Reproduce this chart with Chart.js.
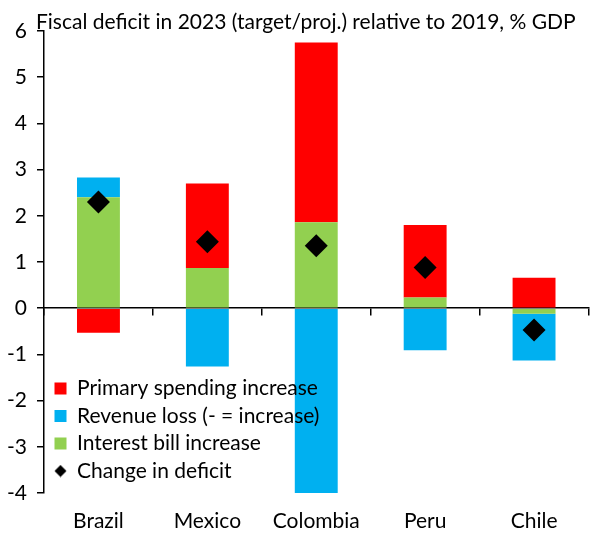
<!DOCTYPE html>
<html><head><meta charset="utf-8">
<script src="https://cdn.jsdelivr.net/npm/chart.js@4.4.0/dist/chart.umd.min.js"></script>
<style>
html,body{margin:0;padding:0;background:#fff;}
</style></head><body>
<canvas id="c" width="600" height="539"></canvas>
<script>
const categories = ['Brazil', 'Mexico', 'Colombia', 'Peru', 'Chile'];
const primarySpending = [-0.53, 1.83, 3.89, 1.57, 0.66];
const revenueLoss = [0.43, -1.26, -4.40, -0.91, -1.01];
const interestBill = [2.40, 0.87, 1.86, 0.23, -0.12];
const changeInDeficit = [2.30, 1.44, 1.35, 0.88, -0.47];
const seriesLabels = ['Primary spending increase', 'Revenue loss (- = increase)', 'Interest bill increase', 'Change in deficit'];
const chartTitle = 'Fiscal deficit in 2023 (target/proj.) relative to 2019, % GDP';
const yMin = -4, yMax = 6, yStep = 1;

Chart.defaults.font.family = 'Lato, sans-serif';
Chart.defaults.font.size = 21;
Chart.defaults.color = '#000';

const diamondIcon = document.createElement('canvas');
diamondIcon.width = 13; diamondIcon.height = 13;
(function(){ const g = diamondIcon.getContext('2d'); g.fillStyle = '#000'; g.beginPath(); g.moveTo(6.5,0.5); g.lineTo(12.5,6.5); g.lineTo(6.5,12.5); g.lineTo(0.5,6.5); g.closePath(); g.fill(); })();

// place title and legend like the original, and draw the legend above the bars
const placement = {
  id: 'placement',
  beforeDraw(chart) {
    const ca = chart.chartArea;
    if (chart.titleBlock) { chart.titleBlock.left = 36; chart.titleBlock.right = 600; }
    const lg = chart.legend;
    if (!lg) return;
    lg.left = ca.left + 4;
    lg.bottom = ca.bottom - 5;
    if (!lg._origDraw) { lg._origDraw = lg.draw; lg.draw = function(){}; }
  },
  afterDatasetsDraw(chart) {
    const lg = chart.legend;
    if (lg && lg._origDraw) lg._origDraw.call(lg, chart.chartArea);
  }
};

new Chart(document.getElementById('c'), {
  data: {
    labels: categories,
    datasets: [
      { type: 'bar', label: seriesLabels[0], data: primarySpending, backgroundColor: '#FF0000', stack: 's', order: 3, barPercentage: 0.394, categoryPercentage: 1 },
      { type: 'bar', label: seriesLabels[1], data: revenueLoss, backgroundColor: '#00B0F0', stack: 's', order: 2, barPercentage: 0.394, categoryPercentage: 1 },
      { type: 'bar', label: seriesLabels[2], data: interestBill, backgroundColor: '#92D050', stack: 's', order: 1, barPercentage: 0.394, categoryPercentage: 1 },
      { type: 'line', label: seriesLabels[3], data: changeInDeficit, showLine: false, pointStyle: 'rectRot', pointRadius: 11.5, pointHoverRadius: 11.5, pointBackgroundColor: '#000', pointBorderColor: '#000', pointBorderWidth: 0, borderColor: '#000', backgroundColor: '#000', order: 0 }
    ]
  },
  options: {
    responsive: false,
    animation: false,
    layout: { padding: { top: 0, right: 10, left: 0, bottom: 0 } },
    plugins: {
      tooltip: { enabled: false },
      title: {
        display: true,
        text: chartTitle,
        align: 'start',
        font: { size: 21, weight: 'normal' },
        padding: { top: 9.4, bottom: -3.6 }
      },
      legend: {
        position: 'chartArea',
        align: 'end',
        labels: {
          usePointStyle: true,
          boxWidth: 12,
          boxHeight: 12,
          padding: 6.5,
          font: { size: 21 },
          sort: (a, b) => a.datasetIndex - b.datasetIndex,
          generateLabels(chart) {
            const items = Chart.defaults.plugins.legend.labels.generateLabels(chart);
            items.forEach(it => {
              if (it.datasetIndex === 3) { it.pointStyle = diamondIcon; }
              else { it.pointStyle = 'rect'; it.lineWidth = 0; }
            });
            return items;
          }
        }
      }
    },
    scales: {
      x: {
        type: 'category',
        offset: true,
        grid: { display: false, drawTicks: false },
        border: { display: false },
        ticks: { padding: 16, font: { size: 21 } },
        afterFit(s) { s.height = 46; }
      },
      x2: {
        type: 'category',
        position: { y: 0 },
        offset: true,
        grid: { drawOnChartArea: false, offset: true, tickLength: 7, color: '#000', lineWidth: 1.5 },
        border: { display: true, color: '#000', width: 1.5 },
        ticks: { display: false }
      },
      y: {
        min: yMin, max: yMax,
        ticks: { stepSize: yStep, padding: 10, font: { size: 21 } },
        grid: { drawOnChartArea: false, drawTicks: true, tickLength: 7, color: '#000', lineWidth: 1.5 },
        border: { display: true, color: '#000', width: 1.5 },
        afterFit(s) { s.width = 44; }
      }
    }
  },
  plugins: [placement]
});
</script>
</body></html>
